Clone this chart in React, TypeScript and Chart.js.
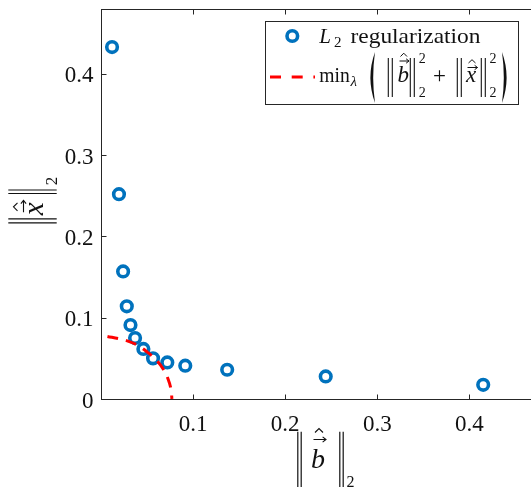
import { useEffect, useRef } from "react";
import { Chart, registerables } from "chart.js";
Chart.register(...registerables);

// L2 regularization points: residual norm ||b̂||₂ and solution norm ||x̂||₂
const l2B = [0.012, 0.0195, 0.024, 0.028, 0.032, 0.037, 0.046, 0.0565, 0.072, 0.0915, 0.137, 0.244, 0.415];
const l2X = [0.433, 0.252, 0.157, 0.114, 0.091, 0.075, 0.0616, 0.05, 0.045, 0.041, 0.036, 0.0278, 0.0175];
// min_λ curve
const curveB = [0.007, 0.02, 0.03, 0.04, 0.05, 0.06, 0.068, 0.073, 0.076, 0.077];
const curveX = [0.077, 0.074, 0.071, 0.066, 0.058, 0.048, 0.036, 0.024, 0.012, 0];

const xTicks = [0.1, 0.2, 0.3, 0.4];
const xTickLabels = ["0.1", "0.2", "0.3", "0.4"];
const yTicks = [0, 0.1, 0.2, 0.3, 0.4];
const yTickLabels = ["0", "0.1", "0.2", "0.3", "0.4"];

const seriesLabel = "L";
const seriesLabelSub = "2";
const seriesLabelRest = "regularization";

const BLUE = "#0072BD";
const RED = "#FF0000";
const AXIS = "#262626";
const TXT = "#111111";
const SERIF = '"Liberation Serif", "Times New Roman", serif';

const W = 545;
const H = 492;

function vbar(ctx: CanvasRenderingContext2D, x: number, y1: number, y2: number) {
  ctx.beginPath();
  ctx.moveTo(x, y1);
  ctx.lineTo(x, y2);
  ctx.stroke();
}
function arrowH(ctx: CanvasRenderingContext2D, x1: number, x2: number, y: number, hs = 2.6) {
  ctx.beginPath();
  ctx.moveTo(x1, y);
  ctx.lineTo(x2, y);
  ctx.moveTo(x2 - hs * 1.3, y - hs);
  ctx.lineTo(x2, y);
  ctx.lineTo(x2 - hs * 1.3, y + hs);
  ctx.stroke();
}
function hat(ctx: CanvasRenderingContext2D, x1: number, x2: number, yb: number, h: number) {
  ctx.beginPath();
  ctx.moveTo(x1, yb);
  ctx.lineTo((x1 + x2) / 2, yb - h);
  ctx.lineTo(x2, yb);
  ctx.stroke();
}
function fitText(ctx: CanvasRenderingContext2D, s: string, x: number, y: number, w: number) {
  const m = ctx.measureText(s).width;
  ctx.save();
  ctx.translate(x, y);
  ctx.scale(w / m, 1);
  ctx.fillText(s, 0, 0);
  ctx.restore();
}
// big delimiter drawn as filled crescent
function paren(ctx: CanvasRenderingContext2D, xOuter: number, xInner: number, y1: number, y2: number) {
  const ym = (y1 + y2) / 2;
  const dir = xInner > xOuter ? 1 : -1;
  ctx.beginPath();
  ctx.moveTo(xInner, y1);
  ctx.quadraticCurveTo(xOuter - dir * 1.2, ym, xInner, y2);
  ctx.quadraticCurveTo(xOuter + dir * 4.4, ym, xInner, y1);
  ctx.closePath();
  ctx.fill();
}

const overlay = {
  id: "overlay",
  afterDraw(chart: any) {
    const ctx: CanvasRenderingContext2D = chart.ctx;
    const a = chart.chartArea;
    const xs = chart.scales.x;
    const ys = chart.scales.y;
    ctx.save();
    // axes box
    ctx.strokeStyle = AXIS;
    ctx.lineWidth = 1;
    ctx.setLineDash([]);
    const L = Math.round(a.left) + 0.5;
    const R = Math.round(a.right) + 0.5;
    const T = Math.round(a.top) + 0.5;
    const B = Math.round(a.bottom) + 0.5;
    ctx.strokeRect(L, T, R - L, B - T);
    ctx.beginPath();
    for (const v of xTicks) {
      const px = Math.round(xs.getPixelForValue(v)) + 0.5;
      ctx.moveTo(px, B);
      ctx.lineTo(px, B - 5);
      ctx.moveTo(px, T);
      ctx.lineTo(px, T + 5);
    }
    for (const v of yTicks) {
      const py = Math.round(ys.getPixelForValue(v)) + 0.5;
      ctx.moveTo(L, py);
      ctx.lineTo(L + 5, py);
      ctx.moveTo(R, py);
      ctx.lineTo(R - 5, py);
    }
    ctx.stroke();

    // tick labels
    ctx.fillStyle = TXT;
    ctx.font = `23px ${SERIF}`;
    ctx.textBaseline = "alphabetic";
    ctx.textAlign = "center";
    xTicks.forEach((v, i) => ctx.fillText(xTickLabels[i], xs.getPixelForValue(v), B + 31));
    ctx.textAlign = "right";
    yTicks.forEach((v, i) => ctx.fillText(yTickLabels[i], L - 8, ys.getPixelForValue(v) + 8.5));
    ctx.textAlign = "left";

    // x axis title ||b̂||₂
    ctx.strokeStyle = TXT;
    ctx.lineWidth = 1.2;
    vbar(ctx, 297.8, 431.7, 487);
    vbar(ctx, 301.2, 431.7, 487);
    vbar(ctx, 339.8, 431.7, 487);
    vbar(ctx, 343.2, 431.7, 487);
    ctx.font = `italic 28px ${SERIF}`;
    ctx.fillText("b", 311, 468);
    ctx.lineWidth = 1.1;
    arrowH(ctx, 313.5, 326, 439.5);
    hat(ctx, 315, 323, 432.5, 4);
    ctx.font = `16px ${SERIF}`;
    ctx.fillText("2", 346.5, 487);

    // y axis title ||x̂||₂ (rotated)
    ctx.save();
    ctx.translate(43, 223.3);
    ctx.rotate(-Math.PI / 2);
    ctx.lineWidth = 1.2;
    vbar(ctx, 0.5, -34.7, 13.7);
    vbar(ctx, 4.5, -34.7, 13.7);
    vbar(ctx, 29.8, -34.7, 13.7);
    vbar(ctx, 33.3, -34.7, 13.7);
    ctx.font = `italic 29px ${SERIF}`;
    ctx.fillText("x", 8, 0);
    ctx.lineWidth = 1.1;
    arrowH(ctx, 11, 23, -19.5);
    hat(ctx, 12.5, 20.5, -25.5, 4);
    ctx.font = `17px ${SERIF}`;
    ctx.fillText("2", 38, 14);
    ctx.restore();

    // legend box
    ctx.fillStyle = "#ffffff";
    ctx.fillRect(265.5, 21.5, 253, 83);
    ctx.strokeStyle = AXIS;
    ctx.lineWidth = 1;
    ctx.strokeRect(265.5, 21.5, 253, 83);
    // row 1
    ctx.strokeStyle = BLUE;
    ctx.lineWidth = 3.6;
    ctx.beginPath();
    ctx.arc(292.3, 36, 5.3, 0, Math.PI * 2);
    ctx.stroke();
    ctx.fillStyle = TXT;
    ctx.font = `italic 21px ${SERIF}`;
    ctx.fillText(seriesLabel, 319.3, 42.5);
    ctx.font = `15px ${SERIF}`;
    ctx.fillText(seriesLabelSub, 334, 46.5);
    ctx.font = `21px ${SERIF}`;
    fitText(ctx, seriesLabelRest, 350.5, 42.5, 130);
    // row 2
    ctx.strokeStyle = RED;
    ctx.lineWidth = 3;
    ctx.setLineDash([11, 10.7]);
    ctx.beginPath();
    ctx.moveTo(270, 77);
    ctx.lineTo(315, 77);
    ctx.stroke();
    ctx.setLineDash([]);
    ctx.fillStyle = TXT;
    ctx.font = `21px ${SERIF}`;
    fitText(ctx, "min", 319.3, 82, 30.5);
    ctx.font = `italic 15px ${SERIF}`;
    ctx.fillText("λ", 350.5, 86);
    // big parens
    paren(ctx, 367, 375, 52, 103);
    paren(ctx, 510, 502, 52, 103);
    // ||b̂||²₂
    ctx.strokeStyle = TXT;
    ctx.lineWidth = 1.1;
    vbar(ctx, 388.3, 58, 97);
    vbar(ctx, 392.3, 58, 97);
    vbar(ctx, 410.3, 58, 97);
    vbar(ctx, 414.3, 58, 97);
    ctx.font = `italic 23px ${SERIF}`;
    ctx.fillText("b", 397.5, 82);
    ctx.lineWidth = 1;
    arrowH(ctx, 399.5, 409, 61, 2.2);
    hat(ctx, 400.5, 407, 56.5, 3.3);
    ctx.font = `14px ${SERIF}`;
    ctx.fillText("2", 418.8, 63);
    ctx.fillText("2", 418.8, 97);
    ctx.font = `23px ${SERIF}`;
    ctx.fillText("+", 433, 83);
    // ||x̂||²₂
    ctx.lineWidth = 1.1;
    vbar(ctx, 457.3, 58, 97);
    vbar(ctx, 461.3, 58, 97);
    vbar(ctx, 481.3, 58, 97);
    vbar(ctx, 485.3, 58, 97);
    ctx.font = `italic 23px ${SERIF}`;
    ctx.fillText("x", 466, 82);
    ctx.lineWidth = 1;
    arrowH(ctx, 467.5, 477.5, 67.5, 2.2);
    hat(ctx, 468.5, 475.5, 63, 3.3);
    ctx.font = `14px ${SERIF}`;
    ctx.fillText("2", 489.5, 63);
    ctx.fillText("2", 489.5, 97);
    ctx.restore();
  },
};

export default function App() {
  const ref = useRef<HTMLCanvasElement | null>(null);
  useEffect(() => {
    if (!ref.current) return;
    const chart = new Chart(ref.current, {
      type: "scatter",
      data: {
        datasets: [
          {
            label: "min",
            data: curveB.map((b, i) => ({ x: b, y: curveX[i] })),
            showLine: true,
            borderColor: RED,
            backgroundColor: RED,
            borderWidth: 3,
            borderDash: [11, 8],
            pointRadius: 0,
            tension: 0.4,
            fill: false,
            order: 1,
          },
          {
            label: "L2 regularization",
            data: l2B.map((b, i) => ({ x: b, y: l2X[i] })),
            showLine: false,
            borderColor: BLUE,
            backgroundColor: "rgba(0,0,0,0)",
            borderWidth: 3.6,
            pointRadius: 5.3,
            pointHoverRadius: 5.3,
            order: 2,
          },
        ],
      },
      options: {
        animation: false,
        responsive: false,
        maintainAspectRatio: false,
        events: [],
        layout: { padding: { left: 101, top: 6, right: W - 535.7, bottom: H - 399 } },
        plugins: { legend: { display: false }, tooltip: { enabled: false } },
        scales: {
          x: { type: "linear", min: 0, max: 0.472, display: false },
          y: { type: "linear", min: 0, max: 0.48, display: false },
        },
      },
      plugins: [overlay],
    } as any);
    return () => chart.destroy();
  }, []);
  return (
    <div style={{ position: "fixed", left: 0, top: 0, width: 531, height: 492, overflow: "hidden", background: "#fff" }}>
      <canvas ref={ref} width={W} height={H} style={{ display: "block", width: W, height: H }} />
    </div>
  );
}
